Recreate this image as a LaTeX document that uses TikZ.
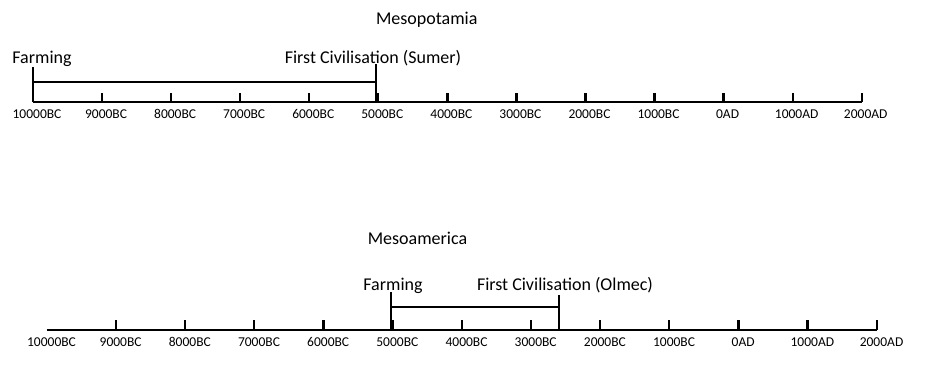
\documentclass[tikz,border=0pt]{standalone}
\usepackage{fontspec}
\setmainfont{Carlito}
\usepackage{tikz}
\newcommand*{\yearfont}{\fontsize{13.5}{15}\selectfont}
\newcommand*{\eventfont}{\fontsize{18}{20}\selectfont}

\begin{document}
\begin{tikzpicture}[x=1pt, y=-1pt, line width=2.3pt]
  \useasboundingbox (0,0) rectangle (940,373);

  % Mesopotamia
  {\tikzstyle{every node}=[anchor=base, inner sep=0pt, font=\yearfont]
    \foreach \i/\yr in {0/10000BC,1/9000BC,2/8000BC,3/7000BC,4/6000BC,5/5000BC,
                        6/4000BC,7/3000BC,8/2000BC,9/1000BC,10/0AD,11/1000AD,12/2000AD}
    {
      \coordinate (mp\i) at (33+\i*69.06, 102);
      \node (mpl\i) at (37+\i*69.06, 118) {\yr};
    }
  }
  \draw (mp0) -- (mp12);
  \foreach \i in {1,...,12}
    \draw (mp\i) -- ++(0,-9);

  \coordinate (mpfarm) at (33,102);
  \coordinate (sumer) at (375.7,102);
  \draw (mpfarm) -- ++(0,-35);
  \draw (sumer) -- ++(0,-38);
  \draw (33,82.3) -- (375.7,82.3);

  {\tikzstyle{every node}=[anchor=base, inner sep=0pt, font=\eventfont]
    \node (mptitle) at (426.7,24) {Mesopotamia};
    \node (mpfarmlbl) at (42,63) {Farming};
    \node (sumerlbl) at (373,63) {First Civilisation (Sumer)};
  }

  % Mesoamerica
  {\tikzstyle{every node}=[anchor=base, inner sep=0pt, font=\yearfont]
    \foreach \i/\yr in {0/10000BC,1/9000BC,2/8000BC,3/7000BC,4/6000BC,5/5000BC,
                        6/4000BC,7/3000BC,8/2000BC,9/1000BC,10/0AD,11/1000AD,12/2000AD}
    {
      \coordinate (ma\i) at (46.7+\i*69.17, 330);
      \node (mal\i) at (51.5+\i*69.17, 346) {\yr};
    }
  }
  \draw (ma0) -- (ma12);
  \foreach \i in {1,...,12}
    \draw (ma\i) -- ++(0,-10);

  \coordinate (mafarm) at (390.7,330);
  \coordinate (olmec) at (559.3,330);
  \draw (mafarm) -- ++(0,-38);
  \draw (olmec) -- ++(0,-35);
  \draw (390.7,306.7) -- (559.3,306.7);

  {\tikzstyle{every node}=[anchor=base, inner sep=0pt, font=\eventfont]
    \node (matitle) at (417.5,244) {Mesoamerica};
    \node (mafarmlbl) at (393,290.5) {Farming};
    \node (olmeclbl) at (565,290.5) {First Civilisation (Olmec)};
  }
\end{tikzpicture}
\end{document}
